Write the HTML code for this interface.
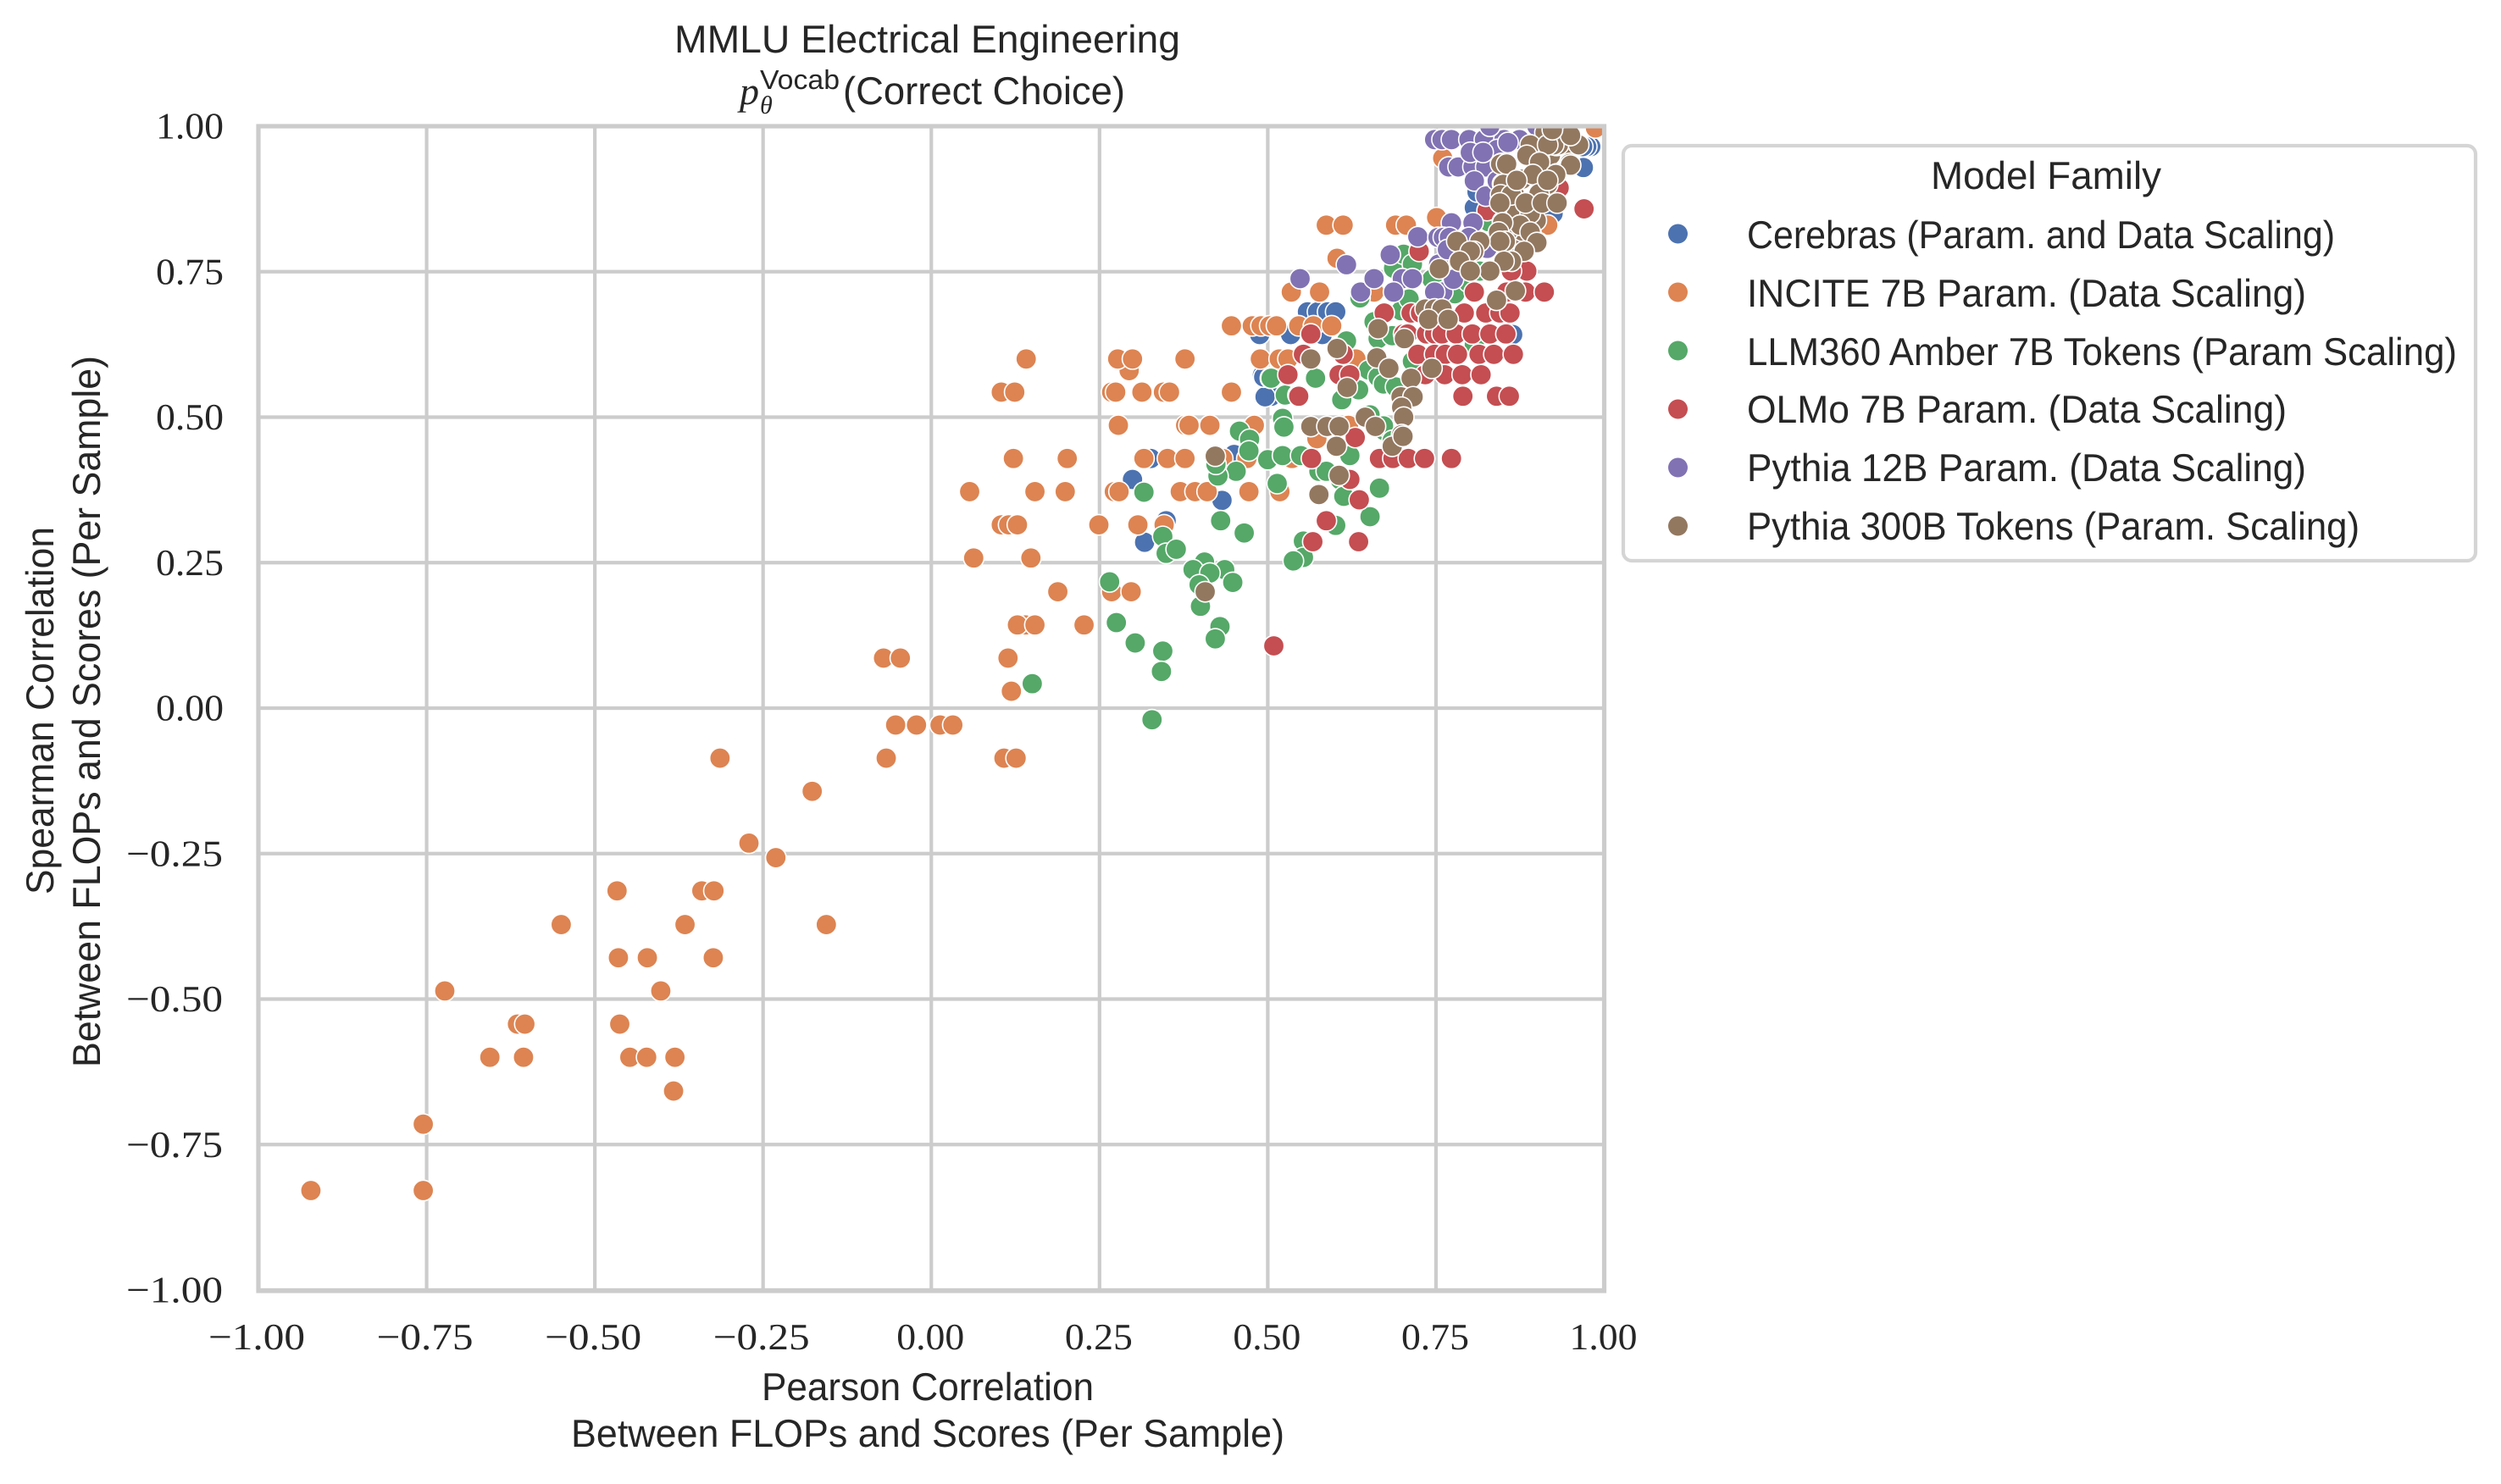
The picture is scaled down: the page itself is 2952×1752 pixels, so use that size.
<!DOCTYPE html>
<html lang="en">
<head>
<meta charset="utf-8">
<title>MMLU Electrical Engineering</title>
<style>
html,body{margin:0;padding:0;background:#fff;}
svg{display:block;}
text{fill:#262626;text-rendering:geometricPrecision;}
.sans{font-family:"Liberation Sans",sans-serif;font-size:46px;}
.serif{font-family:"Liberation Serif",serif;font-size:44px;}
</style>
</head>
<body>
<svg id="chart" xmlns="http://www.w3.org/2000/svg" width="2952" height="1752" viewBox="0 0 2952 1752">
  <defs><clipPath id="plot-clip"><rect x="305" y="149" width="1588.5" height="1375"/></clipPath></defs>
  <rect x="0" y="0" width="2952" height="1752" fill="#ffffff"/>
  <g id="grid"></g>
  <g id="points" clip-path="url(#plot-clip)"></g>
  <g id="spines" fill="none" stroke="#cccccc" stroke-width="5.2">
    <rect x="305" y="149" width="1588.5" height="1375"/>
  </g>
  <g id="ticks"></g>

  <text class="sans" x="796" y="62" textLength="597" lengthAdjust="spacingAndGlyphs">MMLU Electrical Engineering</text>
  <g>
    <text x="873" y="123" font-family="Liberation Serif" font-style="italic" font-size="46">p</text>
    <text x="897" y="134" font-family="Liberation Serif" font-style="italic" font-size="30">θ</text>
    <text class="sans" style="font-size:32px" x="897" y="105" textLength="94" lengthAdjust="spacingAndGlyphs">Vocab</text>
    <text class="sans" x="995" y="123" textLength="333" lengthAdjust="spacingAndGlyphs">(Correct Choice)</text>
  </g>

  <text class="sans" x="899" y="1653" textLength="392" lengthAdjust="spacingAndGlyphs">Pearson Correlation</text>
  <text class="sans" x="674" y="1708" textLength="842" lengthAdjust="spacingAndGlyphs">Between FLOPs and Scores (Per Sample)</text>
  <text class="sans" transform="translate(63,1056) rotate(-90)" textLength="434" lengthAdjust="spacingAndGlyphs">Spearman Correlation</text>
  <text class="sans" transform="translate(118,1260) rotate(-90)" textLength="840" lengthAdjust="spacingAndGlyphs">Between FLOPs and Scores (Per Sample)</text>

  <g>
    <rect x="1916" y="172" width="1006" height="490" rx="10" ry="10" fill="#ffffff" stroke="#d5d5d5" stroke-width="4.2"/>
    <text class="sans" x="2279" y="223" textLength="272" lengthAdjust="spacingAndGlyphs">Model Family</text>
    <g id="legend-entries"></g>
  </g>
</svg>
<script>
const xTickValues = [-1, -0.75, -0.5, -0.25, 0, 0.25, 0.5, 0.75, 1];
const yTickValues = [-1, -0.75, -0.5, -0.25, 0, 0.25, 0.5, 0.75, 1];
const tickLabels = ["\u22121.00", "\u22120.75", "\u22120.50", "\u22120.25", "0.00", "0.25", "0.50", "0.75", "1.00"];
const seriesNames = ["Cerebras (Param. and Data Scaling)", "INCITE 7B Param. (Data Scaling)", "LLM360 Amber 7B Tokens (Param Scaling)", "OLMo 7B Param. (Data Scaling)", "Pythia 12B Param. (Data Scaling)", "Pythia 300B Tokens (Param. Scaling)"];

const cerebrasX = [
0.299,0.326,0.317,0.349,0.432,0.45,0.488,0.492,0.505,
0.559,0.574,0.589,0.601,
0.488,0.534,0.581,0.496,0.494,
0.864,0.969,0.98,0.974,0.968,0.807,0.811,0.924];
const cerebrasY = [
0.393,0.429,0.285,0.322,0.357,0.436,0.642,0.572,0.536,
0.681,0.681,0.681,0.681,
0.642,0.642,0.642,0.535,0.569,
0.642,0.929,0.965,0.965,0.965,0.86,0.887,0.85];

const inciteX = [
-0.922,-0.755,
-0.755,
-0.383,
-0.656,-0.606,-0.448,-0.423,-0.381,
-0.615,-0.604,-0.463,
-0.723,-0.402,
-0.465,-0.422,-0.324,
-0.55,-0.366,-0.156,
-0.467,-0.341,-0.323,
-0.231,
-0.271,
-0.177,
-0.314,-0.067,0.108,0.126,
-0.053,-0.022,0.013,0.032,
0.119,
-0.071,-0.046,0.114,
0.14,0.128,0.154,0.227,
0.188,0.268,0.297,
0.063,0.148,
0.104,0.115,0.128,0.249,0.307,0.346,
0.057,0.154,0.199,0.272,0.279,0.37,0.392,0.41,0.472,0.518,
0.122,0.202,0.316,0.351,0.377,0.433,0.469,0.536,
0.573,
0.278,0.378,0.383,0.414,0.48,0.62,
0.104,0.124,0.268,0.274,0.313,0.345,0.354,0.446,
0.294,
0.141,0.277,0.299,0.377,0.489,0.517,0.53,0.631,
0.446,0.477,0.49,0.503,0.513,0.546,0.568,0.595,
0.535,0.577,0.658,
0.603,
0.587,0.612,0.69,0.706,0.916,
0.751,
0.76,
0.987];
const inciteY = [
-0.829,-0.829,
-0.715,
-0.658,
-0.6,-0.6,-0.6,-0.6,-0.6,
-0.543,-0.543,-0.543,
-0.486,-0.486,
-0.429,-0.429,-0.429,
-0.372,-0.372,-0.372,
-0.314,-0.314,-0.314,
-0.257,
-0.232,
-0.143,
-0.086,-0.086,-0.086,-0.086,
-0.029,-0.029,-0.029,-0.029,
0.029,
0.086,0.086,0.086,
0.143,0.143,0.143,0.143,
0.2,0.2,0.2,
0.258,0.258,
0.315,0.315,0.315,0.315,0.315,0.315,
0.372,0.372,0.372,0.372,0.372,0.372,0.372,0.372,0.372,0.372,
0.429,0.429,0.429,0.429,0.429,0.429,0.429,0.429,
0.463,
0.486,0.486,0.486,0.486,0.486,0.486,
0.543,0.543,0.543,0.543,0.543,0.543,0.543,0.543,
0.58,
0.6,0.6,0.6,0.6,0.6,0.6,0.6,0.6,
0.657,0.657,0.657,0.657,0.657,0.657,0.657,0.657,
0.715,0.715,0.715,
0.773,
0.83,0.83,0.83,0.83,0.83,
0.843,
0.945,
0.997];

const amberX = [
0.344,0.349,0.364,0.265,0.429,0.422,0.406,0.389,0.436,0.414,0.448,0.398,0.4,0.275,0.303,0.344,0.342,0.15,0.328,0.43,0.466,
0.316,0.458,0.473,0.472,0.5,0.453,0.426,0.423,0.504,
0.522,0.549,0.522,0.524,0.514,0.465,
0.622,0.576,0.587,0.608,0.613,0.666,0.652,0.601,0.553,0.553,0.538,0.673,0.652,
0.505,0.571,0.526,0.545,0.617,0.61,0.635,0.65,0.664,0.672,0.69,0.715,0.664,0.658,0.685,0.698,0.71,0.637,0.687,0.702,0.715,0.744,0.778,0.798,0.828,0.815,0.807,0.672,0.685];
const amberY = [
0.295,0.266,0.273,0.217,0.14,0.119,0.251,0.238,0.238,0.232,0.216,0.212,0.175,0.147,0.112,0.098,0.063,0.042,-0.02,0.322,0.301,
0.371,0.476,0.462,0.442,0.427,0.407,0.399,0.419,0.567,
0.434,0.434,0.498,0.483,0.386,0.301,
0.434,0.407,0.407,0.392,0.364,0.378,0.329,0.314,0.287,0.259,0.253,0.477,0.504,
0.567,0.567,0.538,0.538,0.631,0.53,0.547,0.581,0.569,0.557,0.552,0.596,0.635,0.664,0.64,0.683,0.703,0.705,0.756,0.78,0.763,0.737,0.712,0.732,0.836,0.751,0.625,0.485,0.46];

const olmoX = [
0.509,0.635,0.567,0.587,0.636,0.622,0.565,0.63,0.666,0.686,0.709,0.733,0.773,
0.97,0.933,0.826,0.725,0.807,0.855,0.883,0.911,0.885,0.862,
0.673,0.713,0.727,0.792,0.824,0.845,0.86,
0.564,0.702,0.708,0.736,0.748,0.759,0.78,0.804,0.83,0.854,
0.553,0.612,0.723,0.748,0.764,0.782,0.814,0.836,0.865,
0.53,0.606,0.622,0.734,0.763,0.789,0.817,
0.546,0.79,0.84,0.859];
const olmoY = [
0.107,0.286,0.286,0.322,0.358,0.393,0.429,0.465,0.429,0.429,0.429,0.429,0.429,
0.858,0.894,0.855,0.785,0.715,0.715,0.715,0.715,0.751,0.751,
0.679,0.679,0.679,0.679,0.679,0.679,0.679,
0.643,0.643,0.643,0.643,0.643,0.643,0.643,0.643,0.643,0.643,
0.608,0.608,0.608,0.608,0.608,0.608,0.608,0.608,0.608,
0.573,0.573,0.573,0.573,0.573,0.573,0.573,
0.536,0.536,0.536,0.536];

const pythia12X = [
0.548,0.617,0.723,0.682,0.638,0.658,0.7,0.687,0.715,0.76,0.748,0.754,0.776,
0.773,0.805,0.753,0.761,0.77,0.799,0.767,0.826,
0.748,0.759,0.773,0.799,0.822,0.851,0.874,0.901,
0.83,0.9,
0.769,0.783,0.805,0.824,
0.801,0.841,0.857,0.807,0.824,0.841,0.82];
const pythia12Y = [
0.738,0.762,0.81,0.779,0.715,0.738,0.738,0.715,0.738,0.715,0.715,0.763,0.737,
0.834,0.834,0.809,0.809,0.809,0.809,0.788,0.79,
0.977,0.977,0.977,0.977,0.977,0.977,0.977,0.977,
1,1,
0.93,0.93,0.93,0.93,
0.955,0.96,0.972,0.906,0.88,0.906,0.955];

const pythia300X = [
0.847,0.866,0.883,0.849,0.902,0.899,0.92,0.949,0.929,0.895,0.929,0.904,0.949,0.878,0.916,0.849,0.862,0.891,0.912,0.949,
0.891,0.902,0.851,0.878,0.851,0.87,0.878,0.857,0.899,0.87,0.89,0.875,
0.89,0.932,0.925,0.916,0.962,0.95,0.923,
0.846,0.855,0.885,0.904,0.95,0.894,0.928,0.85,0.846,0.862,0.903,0.883,0.845,0.908,0.93,0.87,0.916,
0.849,0.89,0.9,0.843,0.853,0.845,0.881,0.862,0.851,0.83,
0.815,0.781,0.806,0.801,0.785,0.801,0.755,
0.868,0.84,0.734,0.748,0.759,0.739,0.768,
0.664,0.703,0.603,0.564,0.662,0.68,0.713,0.744,0.618,0.698,0.716,0.699,0.702,0.699,0.645,0.66,0.564,0.588,0.606,
0.602,0.685,0.701,0.606,0.576,0.422,0.407];
const pythia300Y = [
0.936,0.885,0.868,0.836,0.885,0.936,0.95,0.966,0.967,0.918,0.918,0.941,0.936,0.909,0.9,0.901,0.868,0.95,0.989,0.989,
0.817,0.8,0.802,0.785,0.769,0.809,0.82,0.82,0.838,0.85,0.85,0.83,
0.968,0.968,0.968,0.968,0.968,0.984,0.994,
0.935,0.935,0.95,0.938,0.933,0.917,0.917,0.9,0.882,0.882,0.884,0.868,0.868,0.868,0.868,0.907,0.907,
0.834,0.818,0.8,0.818,0.802,0.802,0.785,0.768,0.768,0.751,
0.802,0.802,0.785,0.785,0.768,0.751,0.755,
0.717,0.701,0.686,0.686,0.686,0.668,0.668,
0.652,0.635,0.618,0.6,0.602,0.584,0.567,0.584,0.551,0.535,0.535,0.517,0.5,0.47,0.5,0.484,0.484,0.484,0.484,
0.45,0.45,0.467,0.4,0.367,0.433,0.2];

const seriesColors = ["#4c72b0", "#dd8452", "#55a868", "#c44e52", "#8172b3", "#937860"];
const seriesX = [cerebrasX, inciteX, amberX, olmoX, pythia12X, pythia300X];
const seriesY = [cerebrasY, inciteY, amberY, olmoY, pythia12Y, pythia300Y];
const seriesKeys = ["cerebras", "incite", "llm360", "olmo", "pythia-12b", "pythia-300b"];

const NS = "http://www.w3.org/2000/svg";
function xScale(v) { return 1099.25 + 794.25 * v; }
function yScale(v) { return 836 - 687 * v; }
function make(tag, parent) {
  const el = document.createElementNS(NS, tag);
  parent.appendChild(el);
  return el;
}

const gridGroup = document.getElementById("grid");
const tickGroup = document.getElementById("ticks");

xTickValues.forEach(function (v, i) {
  const line = make("line", gridGroup);
  
  
  line.setAttribute("x1", xScale(v));
  line.setAttribute("x2", xScale(v));
  line.setAttribute("y1", yScale(1));
  line.setAttribute("y2", yScale(-1));
  line.setAttribute("stroke", "#cccccc");
  line.setAttribute("stroke-width", "4.2");
  const label = make("text", tickGroup);
  
  
  const negative = v < 0;
  label.setAttribute("class", "serif");
  label.setAttribute("x", xScale(v) - (negative ? 59 : 41));
  label.setAttribute("y", 1593);
  label.setAttribute("textLength", negative ? 114 : 80);
  label.setAttribute("lengthAdjust", "spacingAndGlyphs");
  label.textContent = tickLabels[i];
});

yTickValues.forEach(function (v, i) {
  const line = make("line", gridGroup);
  
  
  line.setAttribute("x1", xScale(-1));
  line.setAttribute("x2", xScale(1));
  line.setAttribute("y1", yScale(v));
  line.setAttribute("y2", yScale(v));
  line.setAttribute("stroke", "#cccccc");
  line.setAttribute("stroke-width", "4.2");
  const label = make("text", tickGroup);
  
  
  const negative = v < 0;
  label.setAttribute("class", "serif");
  label.setAttribute("x", negative ? 149 : 184);
  label.setAttribute("y", yScale(v) + 14.5);
  label.setAttribute("textLength", negative ? 114 : 80);
  label.setAttribute("lengthAdjust", "spacingAndGlyphs");
  label.textContent = tickLabels[i];
});

const pointsGroup = document.getElementById("points");
seriesX.forEach(function (xs, s) {
  const ys = seriesY[s];
  xs.forEach(function (xv, i) {
    const dot = make("circle", pointsGroup);
    
    
    dot.setAttribute("cx", xScale(xv));
    dot.setAttribute("cy", yScale(ys[i]));
    dot.setAttribute("r", "12.2");
    dot.setAttribute("fill", seriesColors[s]);
    dot.setAttribute("stroke", "#ffffff");
    dot.setAttribute("stroke-width", "1.6");
  });
});

const legendMarkerY = [276, 345, 414, 483, 552, 621];
const legendBaseY = [293, 362, 431, 499, 568, 637];
const legendWidths = [694, 660, 838, 637, 660, 723];
const legendGroup = document.getElementById("legend-entries");
seriesNames.forEach(function (name, i) {
  const dot = make("circle", legendGroup);
  
  
  dot.setAttribute("cx", 1980.5);
  dot.setAttribute("cy", legendMarkerY[i]);
  dot.setAttribute("r", "11.5");
  dot.setAttribute("fill", seriesColors[i]);
  const label = make("text", legendGroup);
  
  
  label.setAttribute("class", "sans");
  label.setAttribute("x", 2062);
  label.setAttribute("y", legendBaseY[i]);
  label.setAttribute("textLength", legendWidths[i]);
  label.setAttribute("lengthAdjust", "spacingAndGlyphs");
  label.textContent = name;
});
</script>
</body>
</html>
